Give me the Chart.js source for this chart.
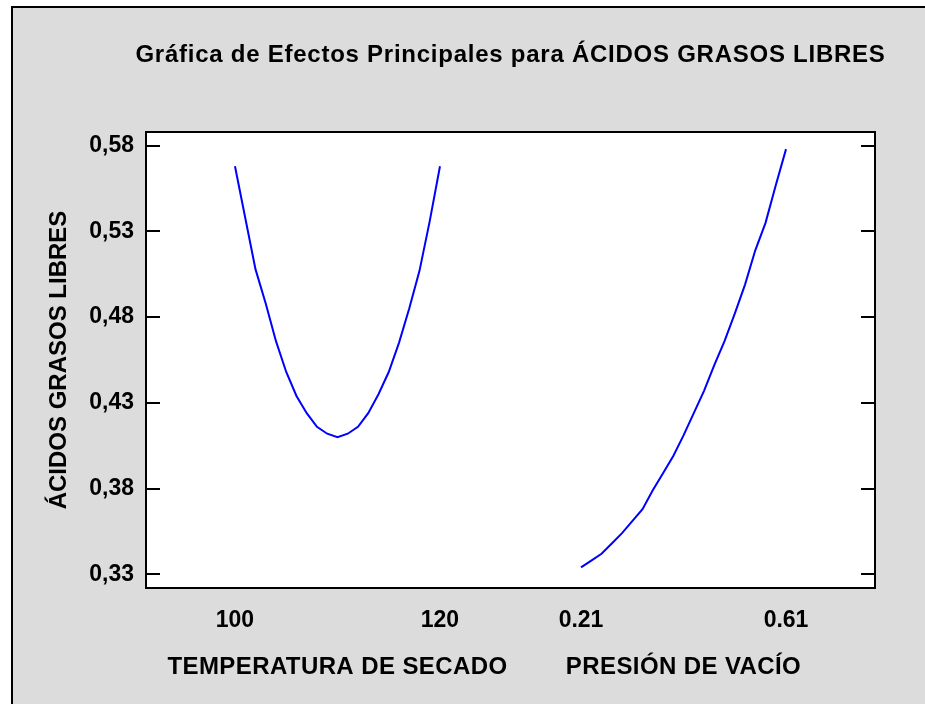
<!DOCTYPE html>
<html><head><meta charset="utf-8">
<script src="https://cdn.jsdelivr.net/npm/chart.js@4.4.0/dist/chart.umd.min.js"></script>
<style>html,body{margin:0;padding:0;background:#fff;overflow:hidden}canvas{display:block}</style>
</head><body>
<canvas id="c" width="925" height="704"></canvas>
<script>
const chartTitle = 'Gráfica de Efectos Principales para ÁCIDOS GRASOS LIBRES';
const yAxisTitle = 'ÁCIDOS GRASOS LIBRES';
const factorNames = ['TEMPERATURA DE SECADO', 'PRESIÓN DE VACÍO'];
const tempLevels = [100,101,102,103,104,105,106,107,108,109,110,111,112,113,114,115,116,117,118,119,120];
const tempEffect = [0.568,0.538,0.508,0.488,0.466,0.448,0.434,0.424,0.416,0.412,0.410,0.412,0.416,0.424,0.435,0.448,0.465,0.485,0.507,0.536,0.568];
const presLevels = [0.21,0.23,0.25,0.27,0.29,0.31,0.33,0.35,0.37,0.39,0.41,0.43,0.45,0.47,0.49,0.51,0.53,0.55,0.57,0.59,0.61];
const presEffect = [0.334,0.338,0.342,0.348,0.354,0.361,0.368,0.379,0.389,0.399,0.411,0.424,0.437,0.452,0.466,0.482,0.499,0.519,0.535,0.557,0.578];
const xTickLabels = ['100','120','0.21','0.61'];
const yTicks = [0.33,0.38,0.43,0.48,0.53,0.58];

const FONT = "'Liberation Sans', Arial, sans-serif";
const seg2Start = 1.688; // position of second factor block on the shared axis
function posTemp(t){ return (t - tempLevels[0]) / (tempLevels[tempLevels.length-1] - tempLevels[0]); }
function posPres(p){ return seg2Start + (p - presLevels[0]) / (presLevels[presLevels.length-1] - presLevels[0]); }
const xTickPos = [posTemp(tempLevels[0]), posTemp(tempLevels[tempLevels.length-1]), posPres(presLevels[0]), posPres(presLevels[presLevels.length-1])];

const framePlugin = {
  id: 'frame',
  beforeDraw(chart){
    const ctx = chart.ctx, a = chart.chartArea;
    ctx.save();
    ctx.fillStyle = '#ffffff';
    ctx.fillRect(0,0,chart.width,chart.height);
    ctx.fillStyle = '#dcdcdc';
    ctx.fillRect(12,7,chart.width-12,chart.height-7);
    ctx.fillStyle = '#000';
    ctx.fillRect(11,6,2,chart.height-6);
    ctx.fillRect(11,6,chart.width-11,2);
    ctx.fillStyle = '#ffffff';
    ctx.fillRect(a.left,a.top,a.right-a.left,a.bottom-a.top);
    ctx.restore();
  },
  afterDraw(chart){
    const ctx = chart.ctx, a = chart.chartArea, ys = chart.scales.y, xs = chart.scales.x;
    ctx.save();
    ctx.strokeStyle = '#000';
    ctx.lineWidth = 2;
    ctx.strokeRect(a.left, a.top, a.right-a.left, a.bottom-a.top);
    ctx.beginPath();
    yTicks.forEach(v => {
      const y = Math.round(ys.getPixelForValue(v));
      ctx.moveTo(a.left, y); ctx.lineTo(a.left+14, y);
      ctx.moveTo(a.right-14, y); ctx.lineTo(a.right, y);
    });
    ctx.stroke();
    ctx.fillStyle = '#000';
    ctx.textAlign = 'center';
    ctx.textBaseline = 'middle';
    ctx.font = 'bold 24px ' + FONT;
    ctx.letterSpacing = '0.4px';
    ctx.fillText(factorNames[0], xs.getPixelForValue((xTickPos[0]+xTickPos[1])/2), 667);
    ctx.fillText(factorNames[1], xs.getPixelForValue((xTickPos[2]+xTickPos[3])/2), 667);
    ctx.letterSpacing = '0.75px';
    ctx.fillText(chartTitle, (a.left + a.right) / 2, 55);
    ctx.restore();
  }
};

new Chart(document.getElementById('c'), {
  type: 'line',
  data: {
    datasets: [
      { label: factorNames[0], data: tempLevels.map((t,i)=>({x: posTemp(t), y: tempEffect[i]})), borderColor:'#0000ff', borderWidth:2, pointRadius:0, tension:0, fill:false },
      { label: factorNames[1], data: presLevels.map((p,i)=>({x: posPres(p), y: presEffect[i]})), borderColor:'#0000ff', borderWidth:2, pointRadius:0, tension:0, fill:false }
    ]
  },
  options: {
    responsive: false,
    animation: false,
    layout: { padding: { top: 132, right: 50, bottom: 0, left: 0 } },
    plugins: {
      legend: { display: false },
      tooltip: { enabled: false },
      title: { display: false }
    },
    scales: {
      x: {
        type: 'linear', min: -0.434, max: 3.122,
        afterFit(s){ s.height = 116; },
        afterBuildTicks(s){ s.ticks = xTickPos.map(v=>({value:v})); },
        grid: { display:false, drawTicks:false, tickLength:0 },
        border: { display:false },
        ticks: {
          autoSkip:false, maxRotation:0, minRotation:0, padding: 19, color:'#000',
          font: { family: FONT, size: 23, weight: 'bold' },
          callback(v, i){ return xTickLabels[i]; }
        }
      },
      y: {
        type: 'linear', min: 0.322, max: 0.588,
        afterFit(s){ s.width = 146; },
        afterBuildTicks(s){ s.ticks = yTicks.map(v=>({value:v})); },
        grid: { display:false, drawTicks:false, tickLength:0 },
        border: { display:false },
        title: { display:true, text: yAxisTitle, color:'#000', font:{ family: FONT, size: 24, weight:'bold', lineHeight:1.2 }, padding:{ top: 45, bottom: 0 } },
        ticks: {
          padding: 12, color:'#000',
          font: { family: FONT, size: 23, weight: 'bold' },
          callback(v){ return Number(v).toFixed(2).replace('.', ','); }
        }
      }
    }
  },
  plugins: [framePlugin]
});
</script>
</body></html>
